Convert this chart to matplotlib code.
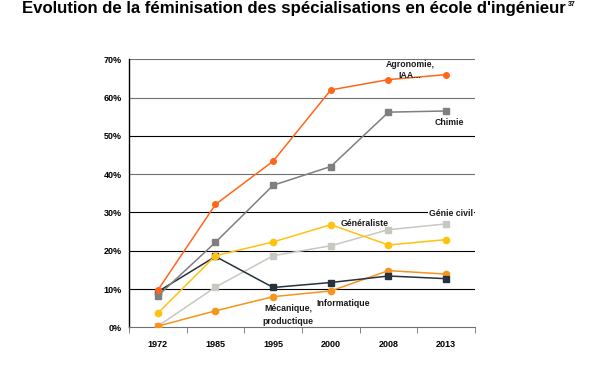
import matplotlib.pyplot as plt
import numpy as np

plt.rcParams['font.family'] = ['Liberation Sans', 'DejaVu Sans']

years = ['1972', '1985', '1995', '2000', '2008', '2013']
agronomie = [9.7, 32.1, 43.4, 62.0, 64.7, 66.0]
chimie = [8.2, 22.2, 37.1, 42.0, 56.2, 56.5]
generaliste = [3.7, 18.7, 22.3, 26.8, 21.5, 22.9]
genie_civil = [0.3, 10.5, 18.7, 21.3, 25.5, 27.0]
mecanique = [9.3, 18.5, 10.4, 11.7, 13.4, 12.7]
informatique = [0.3, 4.3, 8.0, 9.5, 14.8, 13.9]

fig = plt.figure(figsize=(5.97, 3.82), dpi=100)
ax = fig.add_axes([129 / 597, 1 - 327.3 / 382, (475 - 129) / 597, (327.3 - 59.3) / 382])

x = np.arange(len(years))

# gridlines (some darker than others in the original)
grid_colors = {10: 'black', 20: 'black', 30: 'black', 40: '#707070',
               50: 'black', 60: '#707070', 70: '#707070'}
for v, c in grid_colors.items():
    ax.axhline(v, color=c, lw=0.8, zorder=1)

series = [
    (genie_civil, '#c8c8c0', 's', 4.5),
    (informatique, '#f7941d', 'o', 4.5),
    (mecanique, '#26323c', 's', 4.5),
    (generaliste, '#ffc20e', 'o', 4.5),
    (chimie, '#7f7f7f', 's', 4.5),
    (agronomie, '#ff6619', 'o', 4),
]
for vals, col, mk, ms in series:
    ax.plot(x, vals, color=col, marker=mk, ms=ms, lw=1.1, zorder=3)

ax.set_xlim(-0.5, len(years) - 0.5)
ax.set_ylim(0, 70)
ax.set_yticks(range(0, 71, 10))
ax.set_yticklabels([f'{v}%' for v in range(0, 71, 10)], fontsize=6.5, fontweight='bold')
ax.set_xticks(x)
ax.set_xticklabels(years, fontsize=6.5, fontweight='bold')
ax.set_xticks(np.arange(-0.5, len(years), 1), minor=True)
ax.tick_params(axis='x', which='major', length=0, pad=9)
ax.tick_params(axis='x', which='minor', length=4, color='#707070')
ax.tick_params(axis='y', length=0, pad=5)

for s in ['top', 'right']:
    ax.spines[s].set_visible(False)
ax.spines['left'].set_color('black')
ax.spines['left'].set_linewidth(1.0)
ax.spines['bottom'].set_color('#707070')

def data_xy(px, py):
    return ax.transData.inverted().transform(fig.transFigure.transform((px / 597, 1 - py / 382)))

lab = dict(fontsize=6.3, fontweight='bold', color='#1a1a1a', zorder=5)
ax.text(*data_xy(410, 70), 'Agronomie,\nIAA...', ha='center', va='center', linespacing=1.3, **lab)
ax.text(*data_xy(449, 122), 'Chimie', ha='center', va='center', **lab)
ax.text(*data_xy(365, 223), 'Généraliste', ha='center', va='center', **lab)
ax.text(*data_xy(451, 213), 'Génie civil', ha='center', va='center',
        bbox=dict(facecolor='white', edgecolor='none', pad=1), **lab)
ax.text(*data_xy(343, 304), 'Informatique', ha='center', va='center', **lab)
ax.text(*data_xy(288, 315), 'Mécanique,\nproductique', ha='center', va='center', linespacing=1.5, **lab)

title = fig.text(22 / 597, 1 - 9 / 382, "Evolution de la féminisation des spécialisations en école d'ingénieur",
                 fontsize=12.1, fontweight='bold', ha='left', va='center')
fig.canvas.draw()
bb = title.get_window_extent()
fig.text(bb.x1 / 597 + 0.003, 1 - 5 / 382, '37', fontsize=5, fontweight='bold', ha='left', va='center')

fig.savefig('out.png', dpi=100)
